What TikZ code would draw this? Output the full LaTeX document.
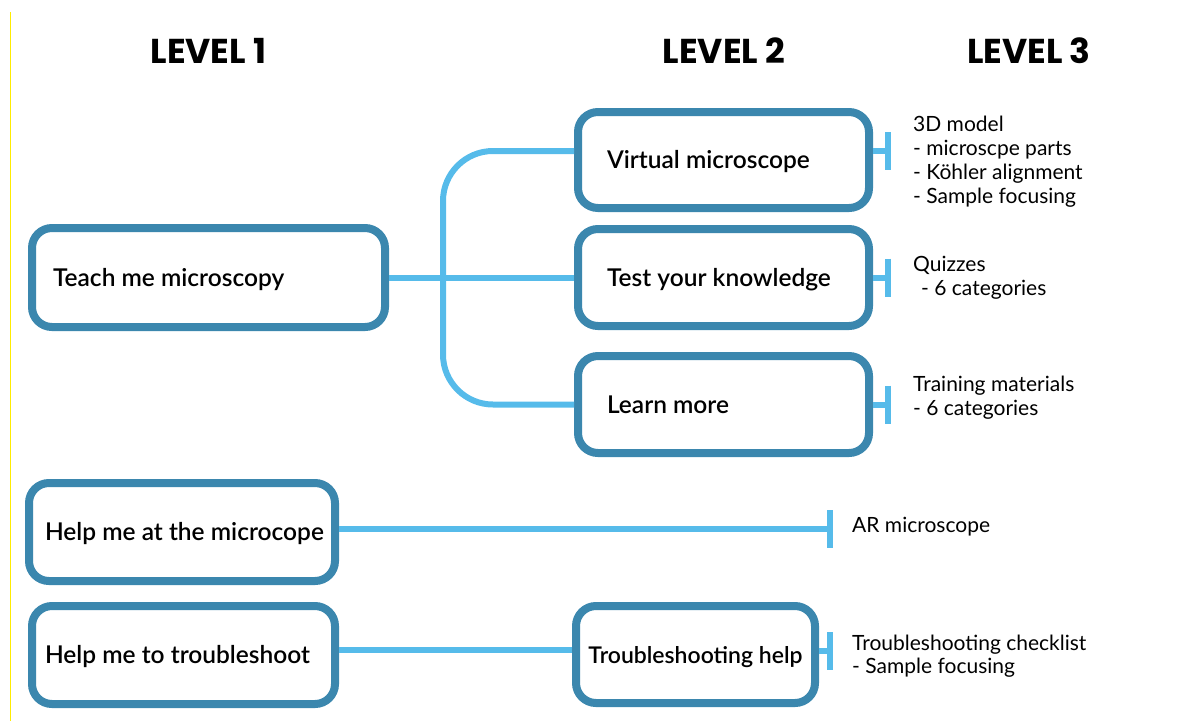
\documentclass[tikz,border=0pt]{standalone}
\usepackage{fontspec}
\setmainfont{Lato}
\newfontfamily\boxfont{Lato}[UprightFont={* Semibold}]
\newfontfamily\headfont{Poppins}[UprightFont={* Bold}]
\usetikzlibrary{arrows.meta}
\definecolor{boxblue}{RGB}{59,135,174}
\definecolor{linkblue}{RGB}{86,187,234}
\definecolor{guide}{RGB}{255,236,0}
\begin{document}
\begin{tikzpicture}[x=1pt,y=-1pt,
  lvbox/.style={draw=boxblue, line width=8pt, rounded corners=20pt, fill=white,
    font=\boxfont\fontsize{24.5}{30}\selectfont, text height=17.5pt, text depth=0pt,
    inner ysep=0pt},
  conn/.style={draw=linkblue, line width=6pt},
  stub/.style={conn, -{Bar[width=38pt]}},
  head/.style={font=\headfont\fontsize{34.5}{38}\selectfont, anchor=base, inner sep=0pt},
  leaf/.style={font=\fontsize{21}{24}\selectfont, anchor=base west, inner sep=0pt, align=left}
]
\useasboundingbox (0,0) rectangle (1194,721);
\draw[guide, line width=1.5pt] (10.5,12) -- (10.5,721);

% headers
\node[head] (h1) at (208.5,63) {LEVEL 1};
\node[head] (h2) at (724,63) {LEVEL 2};
\node[head] (h3) at (1029,63) {LEVEL 3};

% level 1 boxes
\node[lvbox, minimum width=353pt, minimum height=99pt, inner xsep=21pt] (teach) at (208.5,277.5)
  {\makebox[311pt][l]{Teach me microscopy}};
\node[lvbox, minimum width=306pt, minimum height=98pt, inner xsep=16pt] (helpat) at (182,532)
  {\makebox[274pt][l]{Help me at the microcope}};
\node[lvbox, minimum width=303pt, minimum height=98pt, inner xsep=13pt] (helptr) at (183.5,655)
  {\makebox[277pt][l]{Help me to troubleshoot}};

% level 2 boxes
\node[lvbox, minimum width=291pt, minimum height=96pt, inner xsep=29pt] (virt) at (723.5,160)
  {\makebox[233pt][l]{Virtual microscope}};
\node[lvbox, minimum width=291pt, minimum height=97pt, inner xsep=29pt] (test) at (723.5,277.5)
  {\makebox[233pt][l]{Test your knowledge}};
\node[lvbox, minimum width=291pt, minimum height=97pt, inner xsep=29pt] (learn) at (723.5,404.5)
  {\makebox[233pt][l]{Learn more}};
\node[lvbox, minimum width=239pt, minimum height=97pt, inner xsep=10pt,
      font=\boxfont\fontsize{23}{30}\selectfont] (trhelp) at (695.5,654.5)
  {\makebox[219pt][c]{Troubleshooting help}};

% level 3 texts (anchored at the baseline of their last line)
\node[leaf] (l3a) at (913,203) {3D model\\- microscpe parts\\- K\"ohler alignment\\- Sample focusing};
\node[leaf] (l3b) at (913,295) {Quizzes\\\hspace*{8pt}- 6 categories};
\node[leaf] (l3c) at (913,415) {Training materials\\- 6 categories};
\node[leaf] (l3d) at (852,532) {AR microscope};
\node[leaf, font=\fontsize{21}{23}\selectfont] (l3e) at (852,673) {Troubleshooting checklist\\- Sample focusing};

% connectors
\coordinate (trunk) at (443,277.5);
\draw[conn] (teach.east) -- (test.west);
\draw[conn, rounded corners=50pt] ([yshift=9pt]virt.west) -| (trunk) |- (learn.west);
\draw[conn] ([yshift=5pt]helptr.east) -- ([yshift=5pt]helptr.east -| trhelp.west);

\coordinate (b1) at (891,151);
\coordinate (b2) at (891,277.5);
\coordinate (b3) at (891,404.5);
\coordinate (b4) at (833,529);
\coordinate (b5) at (833,651);
\draw[stub] ([yshift=9pt]virt.east) -- (b1);
\draw[stub] (test.east) -- (b2);
\draw[stub] (learn.east) -- (b3);
\draw[stub] ([yshift=3pt]helpat.east) -- (b4);
\draw[stub] ([yshift=3.5pt]trhelp.east) -- (b5);
\end{tikzpicture}
\end{document}
